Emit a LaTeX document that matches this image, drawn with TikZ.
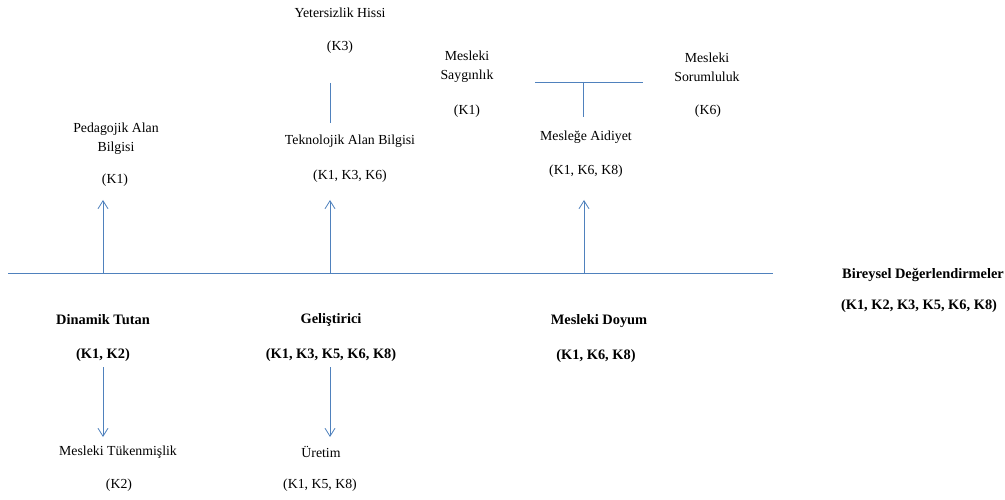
\documentclass[tikz,border=0pt]{standalone}
\usepackage{fontspec}
\setmainfont{Liberation Serif}
\usetikzlibrary{arrows.meta}
\definecolor{linkblue}{HTML}{4F81BD}
\begin{document}
\begin{tikzpicture}[x=1pt,y=-1pt,
  lbl/.style={font=\fontsize{13.8}{19}\selectfont, inner sep=0pt, align=center},
  blbl/.style={inner sep=0pt, align=center, font=\fontsize{14.4}{19}\selectfont\bfseries},
  link/.style={draw=linkblue, line width=0.8pt},
  arr/.style={link, -{Straight Barb[length=8pt,width=10pt,line width=0.8pt]}}]
\useasboundingbox (0,0) rectangle (1005,500);

% main axis
\coordinate (axL) at (8,273);
\coordinate (axR) at (773,273);
\draw[link] (axL) -- (axR);

% upper branch labels
\node[lbl] (yet) at (340,13) {Yetersizlik Hissi};
\node[lbl] (yetK) at (340,47) {(K3)};
\node[lbl] (say) at (467,67) {Mesleki\\Saygınlık};
\node[lbl] (sayK) at (467,111) {(K1)};
\node[lbl] (sor) at (707,67) {Mesleki\\Sorumluluk};
\node[lbl] (sorK) at (708,111) {(K6)};
\node[lbl] (ped) at (116,139) {Pedagojik Alan\\Bilgisi};
\node[lbl] (pedK) at (115,180) {(K1)};
\node[lbl] (tek) at (350,141) {Teknolojik Alan Bilgisi};
\node[lbl] (tekK) at (350,176) {(K1, K3, K6)};
\node[lbl] (aid) at (586,137) {Mesleğe Aidiyet};
\node[lbl] (aidK) at (586,171) {(K1, K6, K8)};

% right-hand summary
\node[blbl] (bir) at (923,275) {Bireysel Değerlendirmeler};
\node[blbl] (birK) at (919,306) {(K1, K2, K3, K5, K6, K8)};

% lower branch labels
\node[blbl] (din) at (103,320) {Dinamik Tutan};
\node[blbl] (dinK) at (103,355) {(K1, K2)};
\node[blbl] (gel) at (331,320) {Geliştirici};
\node[blbl] (gelK) at (331,355) {(K1, K3, K5, K6, K8)};
\node[blbl] (doy) at (599,321) {Mesleki Doyum};
\node[blbl] (doyK) at (596,356) {(K1, K6, K8)};
\node[lbl] (tuk) at (118,452) {Mesleki Tükenmişlik};
\node[lbl] (tukK) at (119,485) {(K2)};
\node[lbl] (ure) at (321,452) {Üretim};
\node[lbl] (ureK) at (320,485) {(K1, K5, K8)};

% connector end points
\coordinate (a1) at (103,273);
\coordinate (a1t) at (103,200);
\coordinate (a2) at (330,273);
\coordinate (a2t) at (330,200);
\coordinate (a3) at (584,273);
\coordinate (a3t) at (584,200);
\coordinate (y1) at (330,83);
\coordinate (y2) at (330,123);
\coordinate (tL) at (535,82);
\coordinate (tR) at (643,82);
\coordinate (tM) at (583,82);
\coordinate (tB) at (583,117);
\coordinate (d1) at (103,367);
\coordinate (d1b) at (103,437);
\coordinate (d2) at (330,367);
\coordinate (d2b) at (330,437);

% upward arrows
\draw[arr] (a1) -- (a1t);
\draw[arr] (a2) -- (a2t);
\draw[arr] (a3) -- (a3t);
% plain links
\draw[link] (y1) -- (y2);
\draw[link] (tL) -- (tR);
\draw[link] (tM) -- (tB);
% downward arrows
\draw[arr] (d1) -- (d1b);
\draw[arr] (d2) -- (d2b);
\end{tikzpicture}
\end{document}
